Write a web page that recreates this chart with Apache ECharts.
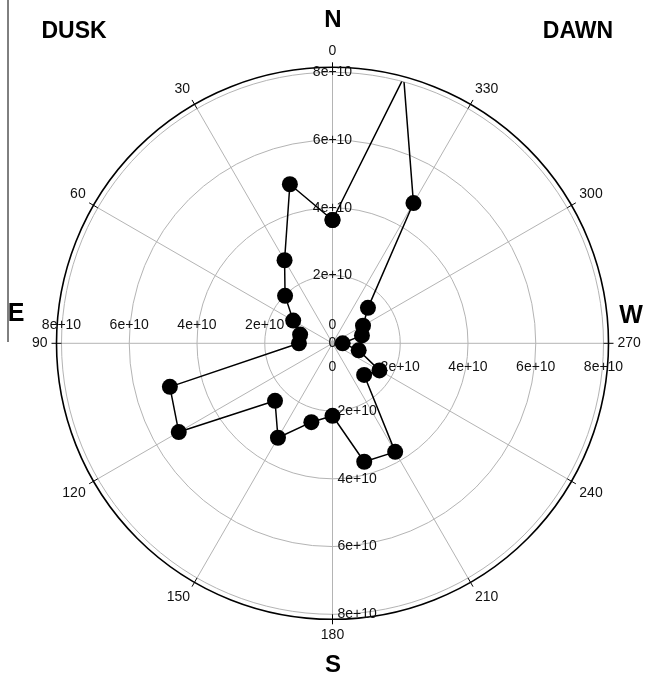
<!DOCTYPE html>
<html>
<head>
<meta charset="utf-8">
<script src="https://cdn.jsdelivr.net/npm/echarts@6/dist/echarts.min.js"></script>
<style>
  html, body { margin: 0; padding: 0; background: #fff; }
  #chart { width: 649px; height: 684px; }
</style>
</head>
<body>
<div id="chart"></div>
<script>
// Local-time sectors (degrees, counter-clockwise from north) and radial values
const angles = [0, 15, 30, 45, 60, 75, 90, 105, 120, 135, 150, 165,
                180, 195, 210, 225, 240, 255, 270, 285, 300, 315, 330, 345];
const radii = [3.64e10, 4.86e10, 2.83e10, 1.98e10, 1.34e10, 0.99e10, 0.99e10, 4.97e10,
               5.24e10, 2.40e10, 3.22e10, 2.41e10, 2.14e10, 3.62e10, 3.70e10, 1.32e10,
               1.60e10, 0.80e10, 0.30e10, 0.90e10, 1.04e10, 1.48e10, 4.78e10, 8.12e10];
const angleTicks = [0, 30, 60, 90, 120, 150, 180, 210, 240, 270, 300, 330];
const radiusTicks = [0, 2e10, 4e10, 6e10, 8e10];

const FONT = 'Liberation Sans, Arial, sans-serif';
const GRID = '#b4b4b4';
const CENTER = [332.5, 343.3];
const R_GRID = 271;
const R_RIM = 276;

const fmtRadius = v => (v === 0 ? '0' : (v / 1e10) + 'e+10');

// closed loop: last sector joins back to the first
const loop = angles.map((a, i) => [radii[i], a]);
loop.push(loop[0]);

function hiddenAngle(start) {
  return {
    type: 'value', min: 0, max: 360, interval: 30, startAngle: start, clockwise: false,
    axisLine: { show: false }, axisTick: { show: false }, axisLabel: { show: false },
    splitLine: { show: false }
  };
}
function labelRadius(polarIndex, label) {
  return {
    polarIndex, type: 'value', min: 0, max: radiusTicks[radiusTicks.length - 1],
    interval: radiusTicks[1] - radiusTicks[0],
    axisLine: { show: false }, axisTick: { show: false }, splitLine: { show: false },
    axisLabel: Object.assign({
      formatter: fmtRadius, color: '#111', fontSize: 14, fontFamily: FONT
    }, label)
  };
}

const chart = echarts.init(document.getElementById('chart'), null, { renderer: 'canvas' });
chart.setOption({
  animation: false,
  backgroundColor: '#fff',
  polar: [
    { center: CENTER, radius: R_GRID },
    { center: CENTER, radius: R_GRID },
    { center: CENTER, radius: R_GRID },
    { center: CENTER, radius: R_GRID },
    { center: CENTER, radius: R_RIM },
    { center: CENTER, radius: R_RIM }
  ],
  angleAxis: [
    {
      polarIndex: 0, type: 'value', min: 0, max: 360, interval: 30,
      startAngle: 90, clockwise: false,
      axisLine: { show: false }, axisTick: { show: false }, axisLabel: { show: false },
      splitLine: { show: true, lineStyle: { color: GRID, width: 1 } }
    },
    Object.assign(hiddenAngle(0), { polarIndex: 1 }),
    Object.assign(hiddenAngle(180), { polarIndex: 2 }),
    Object.assign(hiddenAngle(270), { polarIndex: 3 }),
    {
      polarIndex: 4, type: 'value', min: 0, max: 360, interval: 30,
      startAngle: 90, clockwise: false,
      axisLine: { show: true, lineStyle: { color: '#000', width: 1.6 } },
      axisTick: { show: true, inside: false, length: 5, lineStyle: { color: '#000', width: 1 } },
      axisLabel: {
        show: true, margin: 9, color: '#111', fontSize: 14, fontFamily: FONT,
        formatter: v => (angleTicks.indexOf(v) >= 0 ? String(v) : '')
      },
      splitLine: { show: false }
    },
    {
      polarIndex: 5, type: 'value', min: 0, max: 360, interval: 30,
      startAngle: 90, clockwise: false,
      axisLine: { show: false },
      axisTick: { show: true, inside: true, length: 5, lineStyle: { color: '#000', width: 1 } },
      axisLabel: { show: false }, splitLine: { show: false }
    }
  ],
  radiusAxis: [
    Object.assign(labelRadius(0, { margin: 0, align: 'center', verticalAlign: 'middle' }), {
      splitLine: { show: true, lineStyle: { color: GRID, width: 1 } }
    }),
    labelRadius(1, { margin: -24, align: 'center', verticalAlign: 'middle' }),
    labelRadius(2, { margin: -18, align: 'center', verticalAlign: 'middle' }),
    labelRadius(3, { margin: 5, align: 'left', verticalAlign: 'middle' }),
    { polarIndex: 4, type: 'value', min: 0, max: 1, show: false },
    { polarIndex: 5, type: 'value', min: 0, max: 1, show: false }
  ],
  series: [{
    type: 'line',
    coordinateSystem: 'polar',
    polarIndex: 0,
    data: loop,
    symbol: 'circle',
    symbolSize: 16,
    showAllSymbol: true,
    itemStyle: { color: '#000' },
    lineStyle: { color: '#000', width: 1.5 },
    z: 10
  }],
  graphic: [
    { type: 'line', shape: { x1: 8, y1: 0, x2: 8, y2: 342 }, style: { stroke: '#000', lineWidth: 1 } },
    { type: 'text', x: 333, y: 20, style: { text: 'N', font: 'bold 24px ' + FONT, fill: '#000', align: 'center', verticalAlign: 'middle' } },
    { type: 'text', x: 333, y: 665, style: { text: 'S', font: 'bold 24px ' + FONT, fill: '#000', align: 'center', verticalAlign: 'middle' } },
    { type: 'text', x: 16, y: 314, style: { text: 'E', font: 'bold 25px ' + FONT, fill: '#000', align: 'center', verticalAlign: 'middle' } },
    { type: 'text', x: 631, y: 316, style: { text: 'W', font: 'bold 25px ' + FONT, fill: '#000', align: 'center', verticalAlign: 'middle' } },
    { type: 'text', x: 74, y: 32, style: { text: 'DUSK', font: 'bold 23px ' + FONT, fill: '#000', align: 'center', verticalAlign: 'middle' } },
    { type: 'text', x: 578, y: 32, style: { text: 'DAWN', font: 'bold 23px ' + FONT, fill: '#000', align: 'center', verticalAlign: 'middle' } }
  ]
});
</script>
</body>
</html>
